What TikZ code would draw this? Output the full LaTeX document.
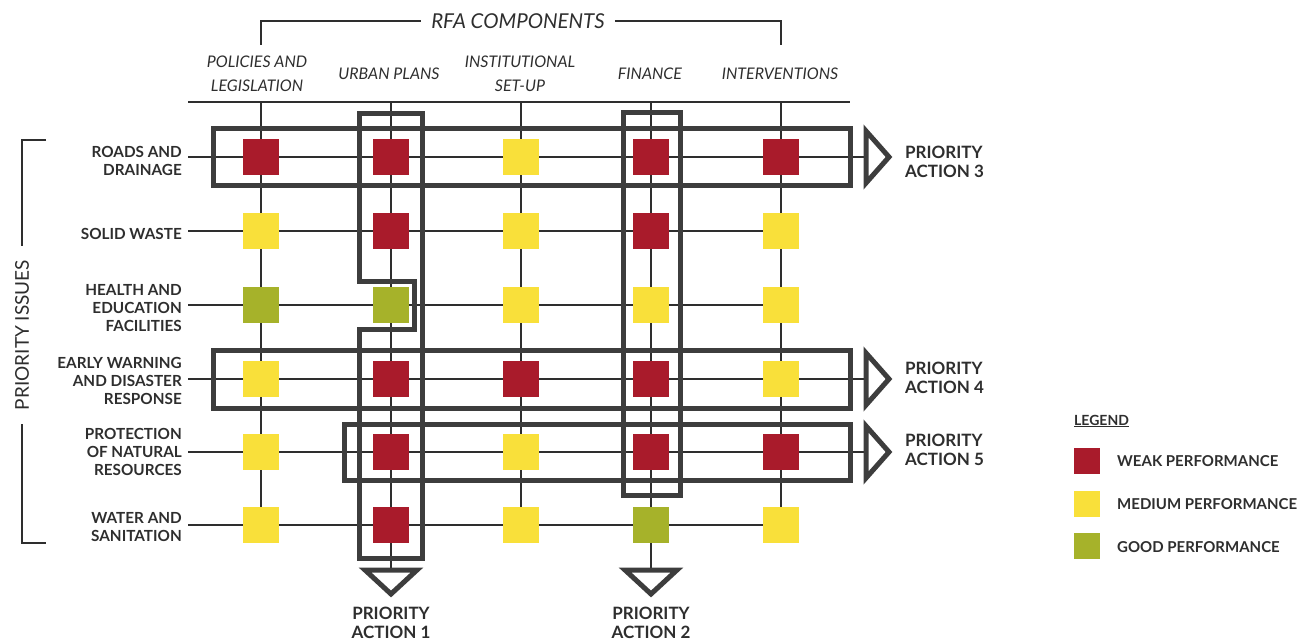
\documentclass[tikz,border=0pt]{standalone}
\usepackage{fontspec}
\setmainfont{Lato}
\pgfdeclarelayer{bg}
\pgfsetlayers{bg,main}
\definecolor{weak}{HTML}{A91B2B}
\definecolor{medium}{HTML}{F9E03A}
\definecolor{good}{HTML}{A6B22A}
\definecolor{frame}{HTML}{3D3D3D}
\definecolor{ink}{HTML}{2E2E2E}
\tikzset{
  cell/.style={minimum size=36pt, inner sep=0pt, draw=none},
  W/.style={cell, fill=weak},
  M/.style={cell, fill=medium},
  G/.style={cell, fill=good},
  gridline/.style={draw=ink, line width=1.5pt},
  bracket/.style={draw=ink, line width=1.5pt},
  pa/.style={draw=frame, line width=5pt, line join=miter},
  rowlab/.style={anchor=east, align=right, font=\bfseries\fontsize{15.3}{18}\selectfont, text=ink, inner sep=0pt},
  collab/.style={align=center, font=\itshape\fontsize{16}{24}\selectfont, text=ink, inner sep=0pt},
  actlab/.style={align=center, font=\bfseries\fontsize{17}{19}\selectfont, text=ink, inner sep=0pt},
  actlabw/.style={actlab, align=left, anchor=west},
  legsq/.style={minimum size=26pt, inner sep=0pt, draw=none},
  leglab/.style={anchor=west, font=\bfseries\fontsize{15}{18}\selectfont, text=ink, inner sep=0pt},
}
\begin{document}
\begin{tikzpicture}[x=1pt,y=-1pt]
\useasboundingbox (0,0) rectangle (1299,644);

% ---- squares ----
\foreach \r/\y/\row in {1/157/{W,W,M,W,W}, 2/231/{M,W,M,W,M}, 3/305/{G,G,M,M,M},
                        4/379/{M,W,W,W,M}, 5/452/{M,W,M,W,W}, 6/525/{M,W,M,G,M}}{
  \foreach \s [count=\c] in \row {
    \pgfmathsetmacro{\xx}{131+130*\c}
    \node[\s] (s-\r-\c) at (\xx,\y) {};
  }
}

% ---- column headers ----
\node[collab] (c1) at (257,74) {POLICIES AND\\LEGISLATION};
\node[collab] (c2) at (389,74) {URBAN PLANS};
\node[collab] (c3) at (520,74) {INSTITUTIONAL\\SET-UP};
\node[collab] (c4) at (650,74) {FINANCE};
\node[collab] (c5) at (780,74) {INTERVENTIONS};
\node[font=\itshape\fontsize{20.5}{24}\selectfont, text=ink, inner sep=10pt] (rfa) at (518,21) {RFA COMPONENTS};

% ---- row labels ----
\node[rowlab] (r1) at (182,161) {ROADS AND\\DRAINAGE};
\node[rowlab] (r2) at (182,234) {SOLID WASTE};
\node[rowlab] (r3) at (182,308) {HEALTH AND\\EDUCATION\\FACILITIES};
\node[rowlab] (r4) at (182,381) {EARLY WARNING\\AND DISASTER\\RESPONSE};
\node[rowlab] (r5) at (182,452) {PROTECTION\\OF NATURAL\\RESOURCES};
\node[rowlab] (r6) at (182,527) {WATER AND\\SANITATION};
\node[rotate=90, font=\fontsize{19}{22}\selectfont, text=ink, inner sep=14pt] (iss) at (22,335) {PRIORITY ISSUES};

% ---- coordinates ----
\coordinate (hl) at (188,102);
\coordinate (hr) at (850,102);
\foreach \c in {1,...,5}{\pgfmathsetmacro{\xx}{131+130*\c}\coordinate (h\c) at (\xx,102);}
\coordinate (ta1) at (391,570);
\coordinate (ta2) at (651,570);
\coordinate (ta3) at (866,157);
\coordinate (ta4) at (866,379);
\coordinate (ta5) at (866,452);
\coordinate (bk1) at (261,45);
\coordinate (bk2) at (781,45);
\coordinate (lb1) at (46,140);
\coordinate (lb2) at (46,543);

% ---- action labels ----
\node[actlabw] (a3) at (905,162) {PRIORITY\\ACTION 3};
\node[actlabw] (a4) at (905,378) {PRIORITY\\ACTION 4};
\node[actlabw] (a5) at (905,450) {PRIORITY\\ACTION 5};
\node[actlab] (a1) at (391,623) {PRIORITY\\ACTION 1};
\node[actlab] (a2) at (651,623) {PRIORITY\\ACTION 2};

% ---- legend ----
\node[anchor=west, font=\bfseries\fontsize{14}{17}\selectfont, text=ink, inner sep=0pt] (leg) at (1074,421) {\underline{LEGEND}};
\node[legsq, fill=weak] (lw) at (1087,461) {};
\node[legsq, fill=medium] (lm) at (1087,504) {};
\node[legsq, fill=good] (lg) at (1087,546) {};
\node[leglab] (tw) at (1117,461) {WEAK PERFORMANCE};
\node[leglab] (tm) at (1117,504) {MEDIUM PERFORMANCE};
\node[leglab] (tg) at (1117,547) {GOOD PERFORMANCE};

\begin{pgfonlayer}{bg}
  % brackets
  \draw[bracket] (bk1) |- (rfa.west);
  \draw[bracket] (rfa.east) -| (bk2);
  \draw[bracket] (lb1) -| (iss.east);
  \draw[bracket] (iss.west) |- (lb2);
  % header line
  \draw[gridline] (hl) -- (hr);
  % column lines
  \draw[gridline] (h1) -- (s-6-1.center);
  \draw[gridline] (h2) -- (ta1);
  \draw[gridline] (h3) -- (s-6-3.center);
  \draw[gridline] (h4) -- (ta2);
  \draw[gridline] (h5) -- (s-6-5.center);
  % row lines
  \draw[gridline] ([xshift=6pt]r1.east |- s-1-1) -- (ta3);
  \draw[gridline] ([xshift=6pt]r2.east |- s-2-1) -- (s-2-5.center);
  \draw[gridline] ([xshift=6pt]r3.east |- s-3-1) -- (s-3-5.center);
  \draw[gridline] ([xshift=6pt]r4.east |- s-4-1) -- (ta4);
  \draw[gridline] ([xshift=6pt]r5.east |- s-5-1) -- (ta5);
  \draw[gridline] ([xshift=6pt]r6.east |- s-6-1) -- (s-6-5.center);
  % priority action frames
  \draw[pa] (359,114) -- (422,114) -- (422,558) -- (359,558) -- (359,330) -- (414,330) -- (414,282) -- (359,282) -- cycle;
  \draw[pa] (623,113) rectangle (680,495);
  \draw[pa] (213,129) rectangle (850,186);
  \draw[pa] (213,351) rectangle (850,408);
  \draw[pa] (344,424) rectangle (850,480);
  % arrow heads
  \draw[pa] (ta3) -- ++(0,-26) -- ++(23,26) -- ++(-23,26) -- cycle;
  \draw[pa] (ta4) -- ++(0,-26) -- ++(23,26) -- ++(-23,26) -- cycle;
  \draw[pa] (ta5) -- ++(0,-26) -- ++(23,26) -- ++(-23,26) -- cycle;
  \draw[pa] (ta1) -- ++(-26,0) -- ++(26,24) -- ++(26,-24) -- cycle;
  \draw[pa] (ta2) -- ++(-26,0) -- ++(26,24) -- ++(26,-24) -- cycle;
\end{pgfonlayer}
\end{tikzpicture}
\end{document}
